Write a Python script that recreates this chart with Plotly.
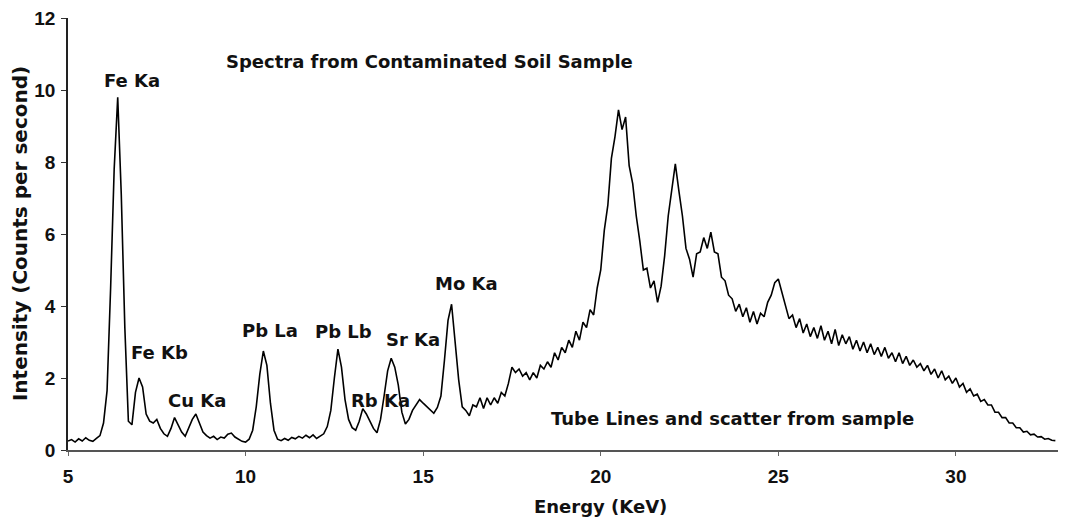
import plotly.graph_objects as go

# Energy axis (keV), sampled every 0.1 keV from 5.0 to 32.8
energy_start = 5.0
energy_step = 0.1

# Intensity (counts per second)
intensity = [
    # 5.0 - 5.9
    0.25, 0.29, 0.22, 0.31, 0.25, 0.34, 0.27, 0.24, 0.32, 0.40,
    # 6.0 - 6.9
    0.75, 1.65, 4.50, 7.80, 9.80, 7.10, 3.40, 0.80, 0.70, 1.60,
    # 7.0 - 7.9
    2.00, 1.75, 1.00, 0.80, 0.75, 0.85, 0.60, 0.45, 0.38, 0.60,
    # 8.0 - 8.9
    0.90, 0.70, 0.50, 0.38, 0.60, 0.85, 1.00, 0.75, 0.50, 0.40,
    # 9.0 - 9.9
    0.33, 0.38, 0.29, 0.36, 0.33, 0.44, 0.47, 0.36, 0.31, 0.24,
    # 10.0 - 10.9
    0.22, 0.30, 0.55, 1.20, 2.10, 2.75, 2.35, 1.30, 0.55, 0.30,
    # 11.0 - 11.9
    0.26, 0.32, 0.27, 0.35, 0.31, 0.38, 0.33, 0.41, 0.34, 0.42,
    # 12.0 - 12.9
    0.32, 0.38, 0.45, 0.65, 1.10, 2.00, 2.80, 2.30, 1.40, 0.85,
    # 13.0 - 13.9
    0.62, 0.55, 0.80, 1.15, 1.00, 0.80, 0.60, 0.48, 0.85, 1.50,
    # 14.0 - 14.9
    2.20, 2.55, 2.30, 1.80, 1.05, 0.72, 0.85, 1.10, 1.25, 1.40,
    # 15.0 - 15.9
    1.30, 1.20, 1.12, 1.02, 1.18, 1.50, 2.50, 3.60, 4.05, 3.00,
    # 16.0 - 16.9
    1.95, 1.20, 1.10, 0.95, 1.25, 1.20, 1.45, 1.15, 1.45, 1.25,
    # 17.0 - 17.9
    1.45, 1.30, 1.60, 1.50, 1.85, 2.30, 2.15, 2.25, 2.05, 2.15,
    # 18.0 - 18.9
    1.95, 2.15, 2.00, 2.35, 2.25, 2.45, 2.30, 2.70, 2.50, 2.85,
    # 19.0 - 19.9
    2.70, 3.05, 2.85, 3.30, 3.05, 3.55, 3.40, 3.90, 3.75, 4.50,
    # 20.0 - 20.9
    5.00, 6.10, 6.80, 8.10, 8.70, 9.45, 8.90, 9.25, 7.90, 7.40,
    # 21.0 - 21.9
    6.50, 5.80, 5.00, 5.05, 4.50, 4.70, 4.10, 4.55, 5.40, 6.50,
    # 22.0 - 22.9
    7.30, 7.95, 7.20, 6.50, 5.60, 5.30, 4.80, 5.45, 5.50, 5.90,
    # 23.0 - 23.9
    5.60, 6.05, 5.50, 5.45, 4.80, 4.70, 4.30, 4.20, 3.85, 4.05,
    # 24.0 - 24.9
    3.70, 3.95, 3.55, 3.85, 3.50, 3.80, 3.70, 4.10, 4.30, 4.65,
    # 25.0 - 25.9
    4.75, 4.40, 4.05, 3.65, 3.75, 3.40, 3.65, 3.25, 3.50, 3.15,
    # 26.0 - 26.9
    3.40, 3.10, 3.45, 3.05, 3.30, 2.95, 3.35, 2.90, 3.20, 2.95,
    # 27.0 - 27.9
    3.15, 2.80, 3.05, 2.75, 3.00, 2.70, 2.95, 2.65, 2.85, 2.60,
    # 28.0 - 28.9
    2.85, 2.55, 2.70, 2.45, 2.70, 2.40, 2.60, 2.35, 2.50, 2.30,
    # 29.0 - 29.9
    2.40, 2.20, 2.35, 2.10, 2.25, 2.00, 2.20, 1.95, 2.05, 1.85,
    # 30.0 - 30.9
    2.00, 1.75, 1.85, 1.60, 1.70, 1.50, 1.55, 1.35, 1.40, 1.25,
    # 31.0 - 31.9
    1.25, 1.05, 1.05, 0.90, 0.90, 0.75, 0.75, 0.62, 0.62, 0.50,
    # 32.0 - 32.8
    0.52, 0.42, 0.44, 0.36, 0.37, 0.30, 0.32, 0.27, 0.26,
]
energy = [round(energy_start + i * energy_step, 2) for i in range(len(intensity))]

# Peak labels and their (energy, intensity) anchor
peak_labels = ["Fe Ka", "Fe Kb", "Cu Ka", "Pb La", "Pb Lb", "Rb Ka", "Sr Ka", "Mo Ka"]
label_x = [6.79, 7.59, 8.63, 10.69, 12.76, 13.81, 14.70, 16.22]
label_y = [10.27, 2.70, 1.38, 3.33, 3.30, 1.38, 3.08, 4.62]

notes = ["Spectra from Contaminated Soil Sample", "Tube Lines and scatter from sample"]
notes_x = [15.19, 23.72]
notes_y = [10.79, 0.88]

x_ticks = [5, 10, 15, 20, 25, 30]
y_ticks = [0, 2, 4, 6, 8, 10, 12]

LABEL_FONT = dict(family="DejaVu Sans", size=18, color="#111111", weight="bold")
TICK_FONT = dict(family="Liberation Sans", size=19, color="#111111", weight="bold")

fig = go.Figure()
fig.add_trace(go.Scatter(
    x=energy, y=intensity, mode="lines",
    line=dict(color="#000000", width=1.6),
    showlegend=False, hoverinfo="skip",
))

annotations = []
for t, x, y in zip(peak_labels + notes, label_x + notes_x, label_y + notes_y):
    annotations.append(dict(
        text=t, x=x, y=y, xref="x", yref="y", showarrow=False,
        xanchor="center", yanchor="middle", font=LABEL_FONT,
    ))
annotations.append(dict(
    text="Energy (KeV)", x=20.0, y=-0.131, xref="x", yref="paper",
    showarrow=False, xanchor="center", yanchor="middle", font=LABEL_FONT,
))
annotations.append(dict(
    text="Intensity (Counts per second)", x=-0.048, y=0.5, xref="paper", yref="paper",
    showarrow=False, xanchor="center", yanchor="middle", textangle=-90,
    font=dict(family="DejaVu Sans", size=20, color="#111111", weight="bold"),
))

# The page body adds an 8px margin, so the figure is sized to fit the window
fig.update_layout(
    width=1058, height=510,
    margin=dict(l=60, r=0, t=6, b=68),
    paper_bgcolor="white", plot_bgcolor="white",
    annotations=annotations,
    xaxis=dict(
        range=[5, 33.1], tickvals=x_ticks, ticks="outside", ticklen=4,
        tickcolor="#666666", showline=True, linecolor="#555555", linewidth=2,
        showgrid=False, zeroline=False, tickfont=TICK_FONT, ticklabelstandoff=4,
        ticklabeloverflow="allow",
    ),
    yaxis=dict(
        range=[0, 12], tickvals=y_ticks, ticks="outside", ticklen=5,
        tickcolor="#333333", showline=True, linecolor="#222222", linewidth=1.5,
        showgrid=False, zeroline=False, tickfont=TICK_FONT, ticklabelstandoff=2,
        ticklabeloverflow="allow",
    ),
)

fig.write_html("out.html")
